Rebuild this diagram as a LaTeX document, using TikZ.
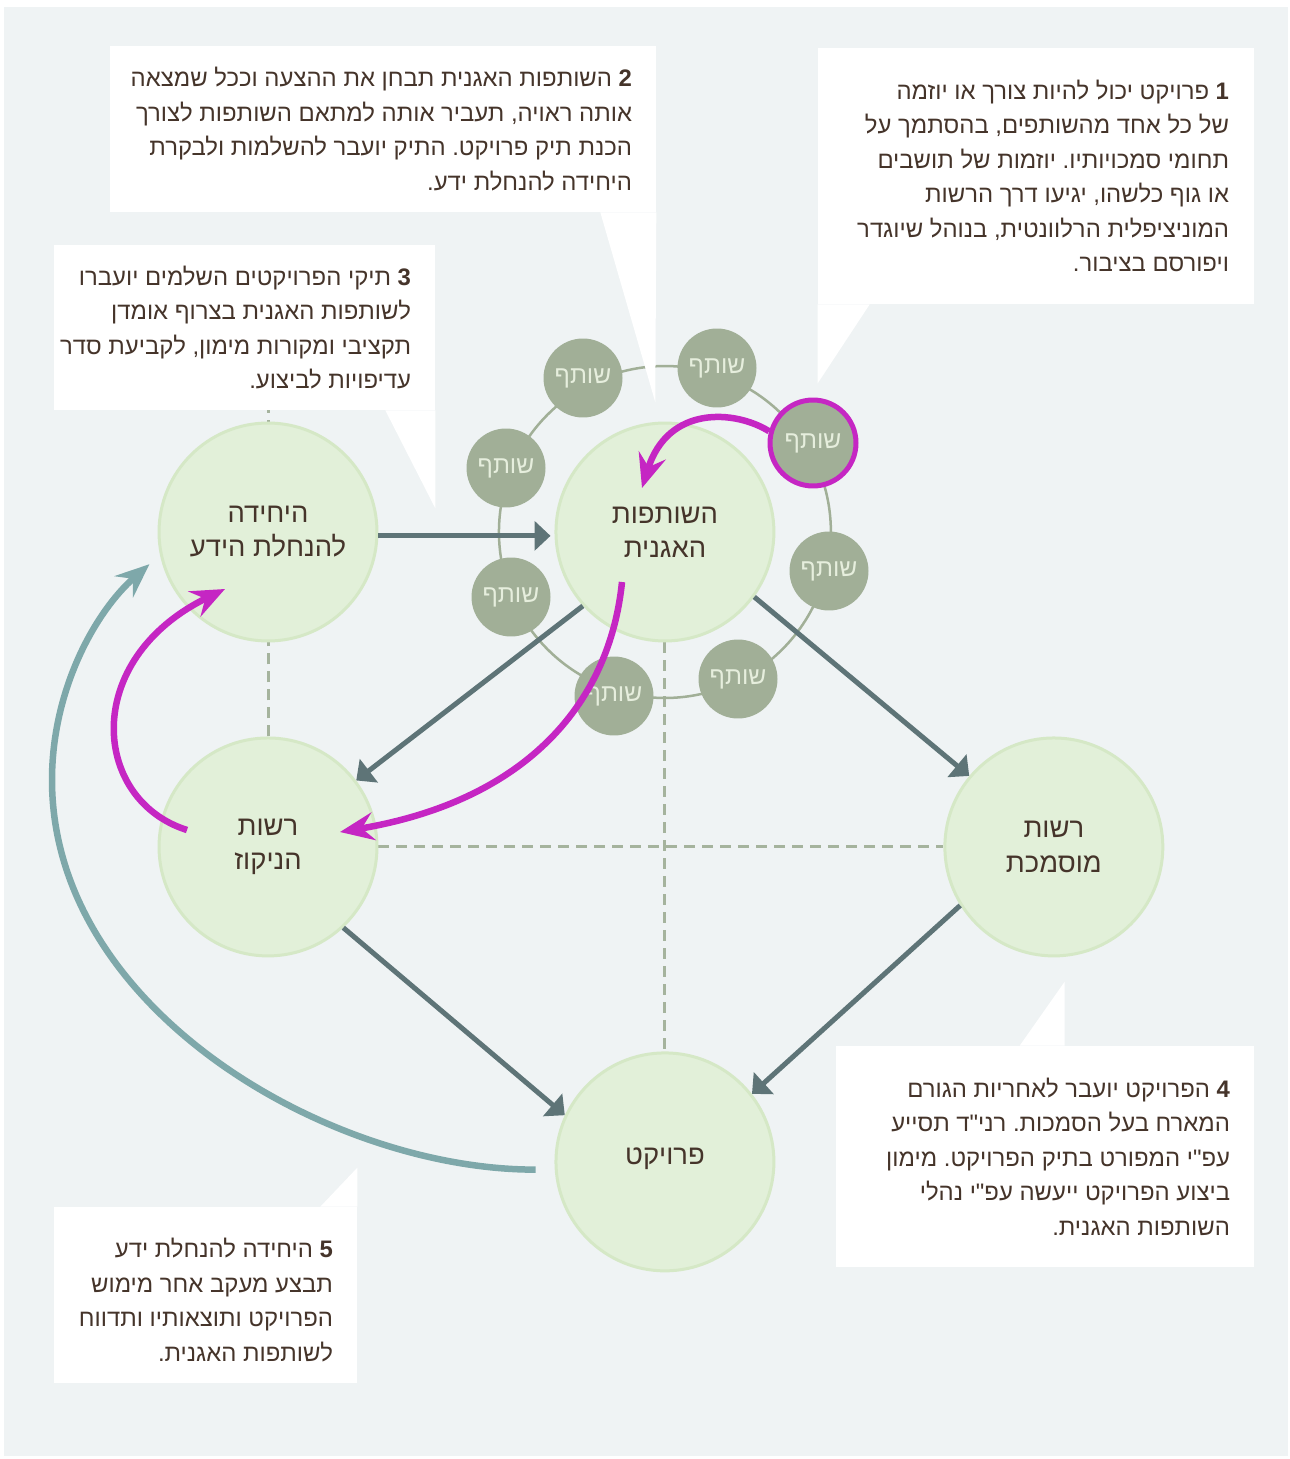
\documentclass[tikz,border=0pt]{standalone}
\usepackage{fontspec}
\usetikzlibrary{positioning, arrows.meta}
\TeXXeTstate=1
\frenchspacing
\newfontfamily\hebfont[Script=Hebrew]{Liberation Sans}
\newcommand{\heb}[1]{\beginR #1\endR}

\pgfdeclarelayer{background}
\pgfsetlayers{background,main}

\definecolor{bgpanel}{HTML}{EFF3F4}
\definecolor{nodefill}{HTML}{E2F0D9}
\definecolor{nodeedge}{HTML}{D5E8C6}
\definecolor{partnerfill}{HTML}{A1AF97}
\definecolor{partnertext}{HTML}{E6EEDD}
\definecolor{flowdark}{HTML}{5E7477}
\definecolor{flowteal}{HTML}{7EA8AA}
\definecolor{flowpink}{HTML}{C526C3}
\definecolor{dashgrey}{HTML}{A5B39D}
\definecolor{inkbrown}{HTML}{45342A}

\begin{document}
\begin{tikzpicture}[
    x=0.02cm,
    y=-0.02cm,
    node distance=6.3cm and 7.94cm,
    on grid,
    body/.style={
        circle,
        draw=nodeedge,
        line width=0.06cm,
        fill=nodefill,
        minimum size=4.36cm,
        inner sep=0pt,
        align=center,
        text=inkbrown,
        font=\hebfont\fontsize{15.6}{19.4}\selectfont,
    },
    partner/.style={
        circle,
        fill=partnerfill,
        minimum size=1.58cm,
        inner sep=0pt,
        text=partnertext,
        font=\hebfont\fontsize{14}{16}\selectfont,
    },
    chosen/.style={partner, draw=flowpink, line width=0.1cm, minimum size=1.72cm},
    flow/.style={-{Triangle[length=0.32cm, width=0.58cm]}, line width=0.1cm, draw=flowdark},
    loopback/.style={-{Stealth[length=0.68cm, width=0.56cm, inset=0.24cm]}, line width=0.13cm, draw=flowteal},
    handoff/.style={-{Stealth[length=0.68cm, width=0.56cm, inset=0.24cm]}, line width=0.13cm, draw=flowpink},
    link/.style={draw=dashgrey, line width=0.06cm, dash pattern=on 0.22cm off 0.14cm},
    notebox/.style={fill=white, inner sep=0pt},
    notetext/.style={
        anchor=east,
        align=right,
        inner sep=0pt,
        text=inkbrown,
        font=\hebfont\fontsize{13.6}{19.6}\selectfont,
    },
]
\useasboundingbox (0,0) rectangle (1290,1459);

% --- Notes ---
\node[notebox, minimum width=8.72cm, minimum height=5.12cm] (note1) at (1036,176) {};
\node[notebox, minimum width=10.92cm, minimum height=3.32cm] (note2) at (383,129) {};
\node[notebox, minimum width=7.62cm, minimum height=3.3cm] (note3) at (244.5,327.5) {};
\node[notebox, minimum width=8.36cm, minimum height=4.42cm] (note4) at (1045,1156.5) {};
\node[notebox, minimum width=6.06cm, minimum height=3.52cm] (note5) at (205.5,1295) {};

\fill[white] (note1.south west) -- ++(52,0) -- ++(-52,79) -- cycle;
\fill[white] (note2.south east) -- ++(-56,0) -- ++(55,190) -- cycle;
\fill[white] (note3.south east) -- ++(-50,0) -- ++(50,98) -- cycle;
\fill[white] (note4.north west) ++(184,0) -- ++(45,0) -- ++(0,-64) -- cycle;
\fill[white] (note5.north east) -- ++(-37,0) -- ++(37,-39) -- cycle;

\node[notetext] (text1) at ([xshift=-0.5cm]note1.east) {%
    \heb{\textbf{1} פרויקט יכול להיות צורך או יוזמה}\\
    \heb{של כל אחד מהשותפים, בהסתמך על}\\
    \heb{תחומי סמכויותיו. יוזמות של תושבים}\\
    \heb{או גוף כלשהו, יגיעו דרך הרשות}\\
    \heb{המוניציפלית הרלוונטית, בנוהל שיוגדר}\\
    \heb{ויפורסם בציבור.}};
\node[notetext] (text2) at ([xshift=-0.48cm]note2.east) {%
    \heb{\textbf{2} השותפות האגנית תבחן את ההצעה וככל שמצאה}\\
    \heb{אותה ראויה, תעביר אותה למתאם השותפות לצורך}\\
    \heb{הכנת תיק פרויקט. התיק יועבר להשלמות ולבקרת}\\
    \heb{היחידה להנחלת ידע.}};
\node[notetext] (text3) at ([xshift=-0.48cm]note3.east) {%
    \heb{\textbf{3} תיקי הפרויקטים השלמים יועברו}\\
    \heb{לשותפות האגנית בצרוף אומדן}\\
    \heb{תקציבי ומקורות מימון, לקביעת סדר}\\
    \heb{עדיפויות לביצוע.}};
\node[notetext] (text4) at ([xshift=-0.48cm]note4.east) {%
    \heb{\textbf{4} הפרויקט יועבר לאחריות הגורם}\\
    \heb{המארח בעל הסמכות. רני"ד תסייע}\\
    \heb{עפ"י המפורט בתיק הפרויקט. מימון}\\
    \heb{ביצוע הפרויקט ייעשה עפ"י נהלי}\\
    \heb{השותפות האגנית.}};
\node[notetext] (text5) at ([xshift=-0.48cm,yshift=-0.1cm]note5.east) {%
    \heb{\textbf{5} היחידה להנחלת ידע}\\
    \heb{תבצע מעקב אחר מימוש}\\
    \heb{הפרויקט ותוצאותיו ותדווח}\\
    \heb{לשותפות האגנית.}};

% --- Bodies ---
\node[body]                                   (unit) at (268,532) {\heb{היחידה}\\\heb{להנחלת הידע}};
\node[body, right=of unit]                    (part) {\heb{השותפות}\\\heb{האגנית}};
\node[body, below=of unit]                    (niq)  {\heb{רשות}\\\heb{הניקוז}};
\node[body, below right=6.3cm and 7.78cm of part] (auth) {\heb{רשות}\\\heb{מוסמכת}};
\node[body, below=12.6cm of part]             (proj) {\raisebox{0.22cm}{\heb{פרויקט}}};

% --- Partners ---
\node[partner] (p1) at (583,378) {\heb{שותף}};
\node[partner] (p2) at (717,368) {\heb{שותף}};
\node[chosen]  (p3) at (813,443) {\heb{שותף}};
\node[partner] (p4) at (829,571) {\heb{שותף}};
\node[partner] (p5) at (738,679) {\heb{שותף}};
\node[partner] (p6) at (614,696) {\heb{שותף}};
\node[partner] (p7) at (511,597) {\heb{שותף}};
\node[partner] (p8) at (506,468) {\heb{שותף}};

% --- Links and ring ---
\begin{pgfonlayer}{background}
    \fill[white] (0,0) rectangle (1290,1459);
    \fill[bgpanel] (4,7) rectangle (1288,1456);
    \draw[link] (niq) -- (niq |- note3.south);
    \draw[link] (niq) -- (auth);
    \draw[link] (part) -- (proj);
    \draw[partnerfill, line width=0.05cm] (part) circle [radius=3.32cm];
\end{pgfonlayer}

% --- Flows ---
\draw[flow, shorten >=0.08cm] (unit.-2) -- (part.182);
\draw[flow] (part.222) -- (niq.37);
\draw[flow] (part.-36) -- (auth.140);
\draw[flow] (niq.-47) -- (proj.155);
\draw[flow] (auth.212) -- (proj.38);

\draw[loopback, shorten <=0.38cm, shorten >=0.28cm]
    (proj.184) .. controls (330,1170) and (52,1010) .. (52,780)
    .. controls (52,690) and (95,612) .. (unit.192);

\coordinate (partin)  at (642,488);
\coordinate (partout) at (622,582);
\coordinate (niqin)   at (340,832);
\coordinate (niqout)  at (187,830);
\coordinate (unitin)  at (225,589);

\draw[handoff] (p3.165) .. controls (735,410) and (668,405) .. (partin);
\draw[handoff] (partout) .. controls (610,700) and (530,800) .. (niqin);
\draw[handoff] (niqout) .. controls (92,800) and (80,660) .. (unitin);

\end{tikzpicture}
\end{document}
